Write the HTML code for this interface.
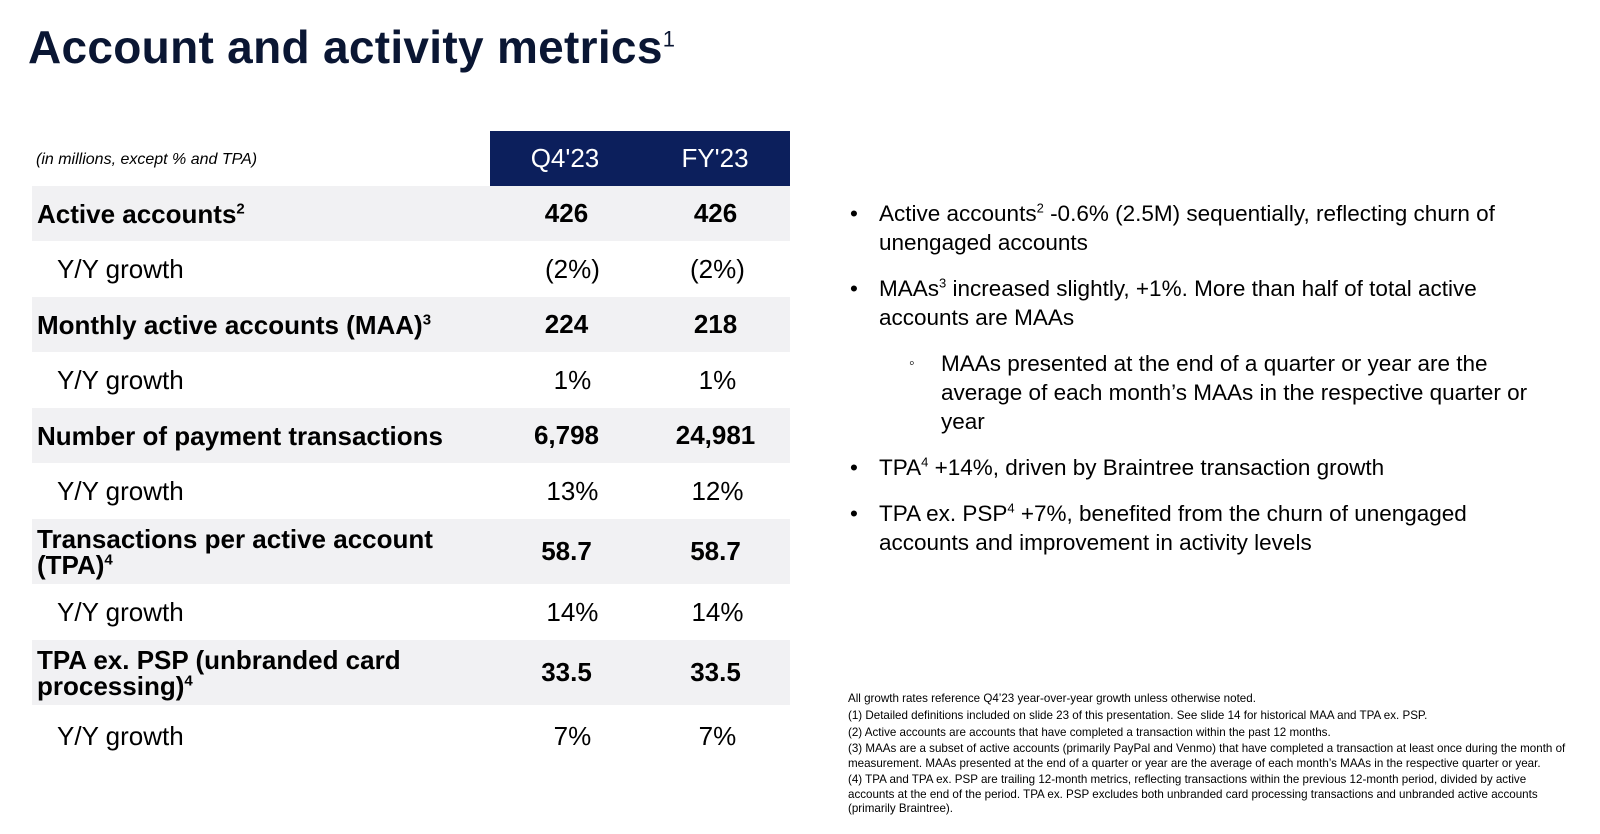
<!DOCTYPE html>
<html><head><meta charset="utf-8"><style>
body{margin:0;width:1600px;height:834px;background:#fff;font-family:"Liberation Sans",sans-serif;color:#000;position:relative;overflow:hidden}
.a{position:absolute}
h1{position:absolute;left:28px;top:20px;margin:0;font-size:46px;font-weight:bold;color:#0a1633;letter-spacing:0.3px}
h1 sup{font-size:22px;font-weight:normal;line-height:0}
.row{position:absolute;left:32px;width:758px;display:flex;align-items:center}
.row.g{background:#f1f1f3}
.lab{width:458px;padding-left:5px;font-size:26px;font-weight:bold;line-height:26px}
.lab.s{font-weight:normal;padding-left:25px}
.lab sup{font-size:15px;line-height:0}
.v{width:150px;text-align:center;font-size:26px}
.b .v{font-weight:bold}
.bul{position:absolute;left:850px;width:710px;font-size:22.5px;line-height:29px}
.bul sup{font-size:13px;line-height:0}
.it{position:relative;padding-left:29px;margin-bottom:17px}
.fn{position:absolute;left:848px;top:692px;width:722px;font-size:11.6px;line-height:14.3px}
.fn p{margin:0 0 2.5px 0}
</style></head><body>
<h1>Account and activity metrics<sup>1</sup></h1>
<div class="a" style="left:36px;top:151px;font-size:16px;font-style:italic">(in millions, except % and TPA)</div>
<div class="a" style="left:490px;top:131px;width:300px;height:55px;background:#0c1f5c;color:#fff;font-size:26px;display:flex;align-items:center">
<span style="width:150px;text-align:center">Q4'23</span><span style="width:150px;text-align:center">FY'23</span></div>
<div>
<div class="row g b" style="top:186px;height:55px"><div class="lab">Active accounts<sup>2</sup></div><div class="v">426</div><div class="v">426</div></div>
<div class="row" style="top:241px;height:56px"><div class="lab s">Y/Y growth</div><div class="v">(2%)</div><div class="v">(2%)</div></div>
<div class="row g b" style="top:297px;height:55px"><div class="lab">Monthly active accounts (MAA)<sup>3</sup></div><div class="v">224</div><div class="v">218</div></div>
<div class="row" style="top:352px;height:56px"><div class="lab s">Y/Y growth</div><div class="v">1%</div><div class="v">1%</div></div>
<div class="row g b" style="top:408px;height:55px"><div class="lab">Number of payment transactions</div><div class="v">6,798</div><div class="v">24,981</div></div>
<div class="row" style="top:463px;height:56px"><div class="lab s">Y/Y growth</div><div class="v">13%</div><div class="v">12%</div></div>
<div class="row g b" style="top:519px;height:65px"><div class="lab">Transactions per active account (TPA)<sup>4</sup></div><div class="v">58.7</div><div class="v">58.7</div></div>
<div class="row" style="top:584px;height:56px"><div class="lab s">Y/Y growth</div><div class="v">14%</div><div class="v">14%</div></div>
<div class="row g b" style="top:640px;height:65px"><div class="lab">TPA ex. PSP (unbranded card processing)<sup>4</sup></div><div class="v">33.5</div><div class="v">33.5</div></div>
<div class="row" style="top:705px;height:62px"><div class="lab s">Y/Y growth</div><div class="v">7%</div><div class="v">7%</div></div>
</div>
<div class="bul" style="top:199px">
<div class="it"><span style="position:absolute;left:0">•</span>Active accounts<sup>2</sup> -0.6% (2.5M) sequentially, reflecting churn of unengaged accounts</div>
<div class="it" style="padding-right:40px"><span style="position:absolute;left:0">•</span>MAAs<sup>3</sup> increased slightly, +1%. More than half of total active accounts are MAAs</div>
<div class="it" style="padding-left:91px;padding-right:20px"><span style="position:absolute;left:59px;font-size:16px">◦</span>MAAs presented at the end of a quarter or year are the average of each month’s MAAs in the respective quarter or year</div>
<div class="it"><span style="position:absolute;left:0">•</span>TPA<sup>4</sup> +14%, driven by Braintree transaction growth</div>
<div class="it" style="padding-right:30px"><span style="position:absolute;left:0">•</span>TPA ex. PSP<sup>4</sup> +7%, benefited from the churn of unengaged accounts and improvement in activity levels</div>
</div>
<div class="fn">
<p>All growth rates reference Q4’23 year-over-year growth unless otherwise noted.</p>
<p>(1) Detailed definitions included on slide 23 of this presentation. See slide 14 for historical MAA and TPA ex. PSP.</p>
<p>(2) Active accounts are accounts that have completed a transaction within the past 12 months.</p>
<p>(3) MAAs are a subset of active accounts (primarily PayPal and Venmo) that have completed a transaction at least once during the month of measurement. MAAs presented at the end of a quarter or year are the average of each month’s MAAs in the respective quarter or year.</p>
<p>(4) TPA and TPA ex. PSP are trailing 12-month metrics, reflecting transactions within the previous 12-month period, divided by active accounts at the end of the period. TPA ex. PSP excludes both unbranded card processing transactions and unbranded active accounts (primarily Braintree).</p>
</div>
</body></html>
